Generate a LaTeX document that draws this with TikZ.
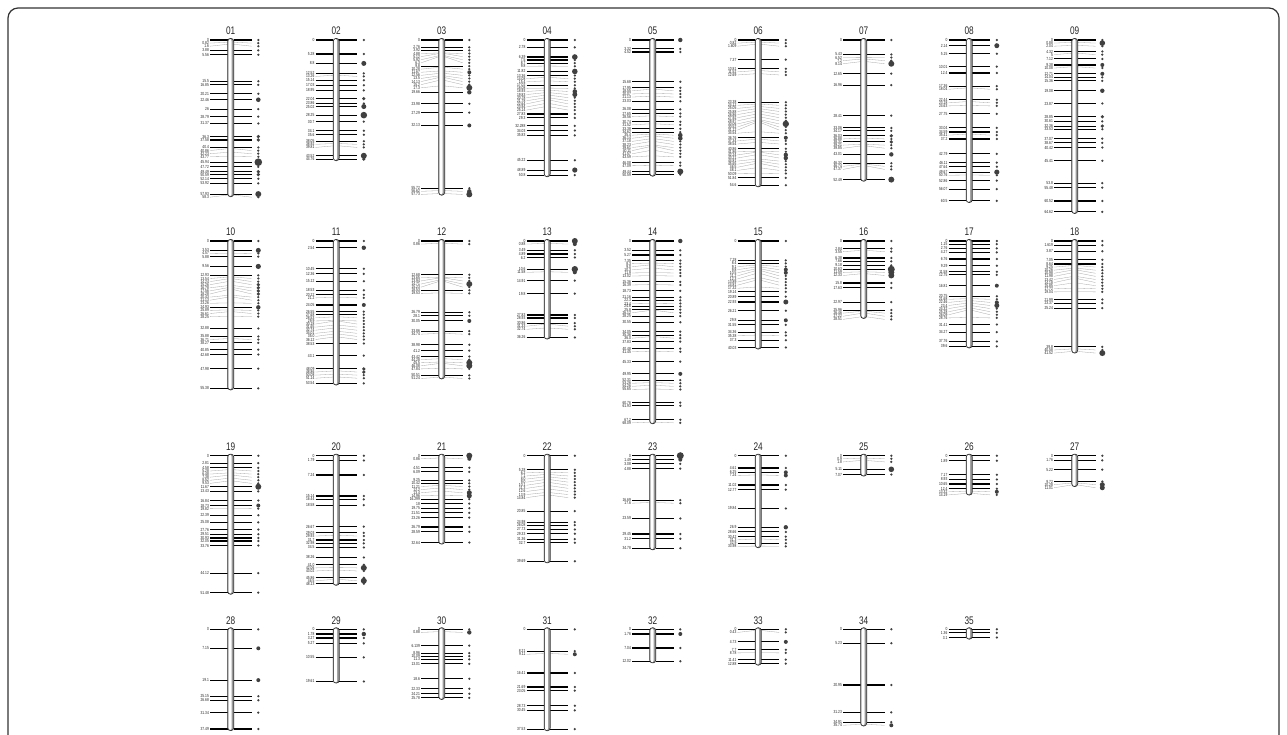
\documentclass[tikz,border=0pt]{standalone}
\usepackage{fontspec}
\newfontfamily\cf[FakeStretch=0.75]{Liberation Sans}
\newcount\chcount
\def\scl{2.66}
\def\dsep{3.1}
\tikzset{
  tickline/.style={line width=1.1pt, black},
  linkline/.style={line width=0.3pt, black!35},
  poslabel/.style={font=\cf\fontsize{4.4}{5}\selectfont, anchor=east, inner sep=0.4pt, text=black!85},
  chrname/.style={font=\cf\fontsize{11}{12}\selectfont, inner sep=0pt, text=black!85},
  markdot/.style={fill=black!75, draw=none},
  chrfill/.style={fill=black!40, draw=none},
  chrinner/.style={fill=white, draw=none},
  chroutline/.style={draw=black!80, line width=0.7pt},
  frame/.style={draw=black!80, line width=1.2pt, rounded corners=10pt},
}
\newcommand\chrom[5]{%
  \global\chcount=0
  \foreach \p/\s in {#5}{%
    \global\advance\chcount by 1
    \pgfmathsetmacro\yy{#2+\p*\scl}%
    \expandafter\xdef\csname py\the\chcount\endcsname{\yy}%
    \expandafter\xdef\csname pl\the\chcount\endcsname{\p}%
    \edef\tmpa{\p}\edef\tmpb{\s}%
    \ifx\tmpa\tmpb
      \expandafter\xdef\csname ps\the\chcount\endcsname{1.25}%
    \else
      \expandafter\xdef\csname ps\the\chcount\endcsname{\s}%
    \fi
  }%
  \edef\nn{\the\chcount}%
  \expandafter\xdef\csname fy1\endcsname{\csname py1\endcsname}%
  \foreach \i [evaluate=\i as \j using int(\i-1)] in {2,...,\nn}{%
    \edef\ta{\csname py\i\endcsname}\edef\tb{\csname fy\j\endcsname}%
    \pgfmathsetmacro\t{max(\ta,\tb+\dsep)}%
    \expandafter\xdef\csname fy\i\endcsname{\t}}%
  \pgfmathsetmacro\ybot{#2+#4*\scl}%
  \foreach \i in {1,...,\nn}{%
    \edef\py{\csname py\i\endcsname}%
    \edef\ly{\csname fy\i\endcsname}%
    \edef\pl{\csname pl\i\endcsname}%
    \edef\ps{\csname ps\i\endcsname}%
    \pgfmathtruncatemacro\isblack{abs(\ly-\py)<0.2 ? 1 : 0}%
    \ifnum\isblack=1
      \draw[tickline] (#1-20.7,\py) -- (#1-3,\py);
      \draw[tickline] (#1+3,\py) -- (#1+21,\py);
      \node[poslabel] (L#3-\i) at (#1-21.2,\py) {\pl};
      \fill[markdot] (#1+27.6,\py) circle[radius=\ps];
    \else
      \draw[linkline] (#1-20.7,\ly) -- (#1-3,\py);
      \draw[linkline] (#1+3,\py) -- (#1+21,\ly);
      \node[poslabel] (L#3-\i) at (#1-21.2,\ly) {\pl};
      \fill[markdot] (#1+27.6,\ly) circle[radius=\ps];
    \fi
  }%
  \fill[chrfill, rounded corners=2.8pt] (#1-3,#2-1.6) rectangle (#1+3,\ybot+1.6);
  \fill[chrinner, rounded corners=2pt] (#1-2.4,#2-1.0) rectangle (#1+0.9,\ybot+1.0);
  \draw[chroutline, rounded corners=2.8pt] (#1-3,#2-1.6) rectangle (#1+3,\ybot+1.6);
  \node[chrname] (N#3) at (#1,#2-9) {#3};
}
\begin{document}
\begin{tikzpicture}[x=1pt,y=-1pt]
\useasboundingbox (0,0) rectangle (1287,734);
\fill[white] (0,0) rectangle (1287,734);
\begin{scope}
\clip (0,0) rectangle (1287,734);
\draw[frame] (8,8) rectangle (1279,760);
\end{scope}
% ---------- row 1
\chrom{230.7}{40}{01}{58.3}{0,0.82,1.6,3.88,5.56,15.5,16.85,20.21,22.46/2.3,26,28.79,31.37,36.3/1.8,37.58/1.8,40.4,40.86,42.23,43.77,45.94/3.8,47.72,49.49/1.8,50.59/1.8,52.14,53.92,57.93/3,58.3}
\chrom{336.2}{40}{02}{44.76}{0,5.28,8.8/2.5,12.52,13.26,15.14,17.03,18.95,22.04/1.8,23.86,25.02/2.5,28.25/3.3,30.7,34.1,35.6,38.05,38.92,39.81,43.52/3,44.76/1.8}
\chrom{441.7}{40}{03}{57.73}{0,2.76,3.92,4.88,5.12,5.92,6.3,9.8,10.28,11.67/2,12.56,13.5,14.13,15.2,17.3/3,19.66/2.2,23.98,27.29,32.13/2,55.72,56.62/2.2,57.73/3}
\chrom{547.2}{40}{04}{50.8}{0,2.78,6.39/2.8,7.5,8.7,9.8,11.82/2.8,13.36,14.08,15.4,17.02,18.08,18.93/2.3,19.83/2.5,20.78,21.78,22.64,23.94,25.14,27.83,29.3,32.288,34.03,35.83,45.22,48.89/2.6,50.8}
\chrom{652.7}{40}{05}{50.59}{0/2.2,3.32,4.52,15.68,17.95,18.55,20.07,21.13,23.03,26.08,27.65,28.56,30.74,31.52,33.38,34.62,35.4/2.3,36.14/2.3,37.18,38.23,39.61,40.11,41.57,43.59,46.08,47.09,49.44/3,50.59}
\chrom{758.2}{40}{06}{54.6}{0,0.82,1.609,7.37,10.81,11.52,12.69,23.38,24.12,25.05,25.88,26.86,27.92,28.97,30.06/3.2,30.52,31.12,34.54,36.76/2,37.34,38.54,40.86,41.86,42.24/2.2,43.21/2.2,44.81,45.65,46.5,48.1,50.09,51.84,54.6}
\chrom{863.7}{40}{07}{52.49}{0,5.43,6.52,7.2,8.14/3,12.65,16.96,28.41,33.06,34.17,36.03/1.8,36.88,38.31/1.8,39.21,39.85,43.01/2.2,46.32,46.74,47.37,52.49/3}
\chrom{969.2}{40}{08}{60.5}{0,2.14/2.5,5.15,10.01,12.4,17.36,18.04,22.44,23.18,24.63,27.75,33.04,34.59,35.41,37.2,42.79,46.11,47.64,49.67/2.6,50.76,52.86,56.07,60.5}
\chrom{1074.7}{40}{09}{64.62}{0,0.88/2.8,2.04,4.32,5,7.12,9.38/2,10.08,12.71/2,14.04,15.36,19.08/2.2,23.87,28.85/1.8,30.61,32.36/1.8,33.53,37.07,38.67,40.42,45.41,53.8,55.48,60.52,64.62}
% ---------- row 2
\chrom{230.7}{241}{10}{55.38}{0,3.53/2.5,4.57,5.88,9.56/2.6,12.93,13.54,14.24,15.26/1.8,16.78/1.8,17.56/1.8,18.28/1.8,20.43,21.13,23.26,24.93/2.2,25.89,26.61,28.25,32.88,35.88,36.71,38.27,40.85,42.68,47.98,55.38}
\chrom{336.2}{241}{11}{53.54}{0,2.54/2.2,10.45,12.36,15.12,18.53,20.22,21.2,24.05/2,26.55,27.68,28.53,29.9,30.18,31.65,32.74,34.01,35.0,36.12,38.53,43.1,48.09/1.8,48.86/1.8,50.08,51.14,53.54}
\chrom{441.7}{241}{12}{51.24}{0,0.86,12.68,13.65,13.94,14.71/3,15.23,18.53,19.53,26.79,28.1,30.05/2,33.86,34.74,38.98,41.2,43.42,44.28,45.5/3,46.08/3,47.84,50.51,51.24}
\chrom{547.2}{241}{13}{36.26}{0/3,0.88/2,3.49,4.89,6.2,10.6/3.2,11.58/2,14.91,19.8,27.83,28.93,30.86,31.33,32.74,36.26}
\chrom{652.7}{241}{14}{68.09}{0/2.2,3.52,5.27,7.35,8.3,9.0,10.3,11.9,13.02,15.36,16.39,18.73,21.16,22.3,23.4,24.6,25.8,26.12,28.25,30.55,34.05,35.36,36.0,37.83,40.48,41.45,45.33,49.95/2,52.31,53.26,54.26,55.65,60.76,61.93,67.2,68.09}
\chrom{758.2}{241}{15}{40.03}{0,7.28,8.4,9.1,9.8/2,10.5/2,11.2,12.3,13.89,14.81,17.32,19.14,20.89,22.93/2.5,26.21,29.8/2,31.55,34.36,35.38,37.3,40.03}
\chrom{863.7}{241}{16}{28.51}{0,2.84,3.55,6.38,7.66,9.18,10.63/3.5,11.59/3,12.33/3,15.8,17.63,22.97,25.96,26.46,27.22,28.51}
\chrom{969.2}{241}{17}{39.6}{0,1.15,2.76,4.27,6.76,9.29,11.58,12.75,16.81/2,20.75,21.68,22.46/2,23.4/2.5,24.32,25.28,26.09,28.76,31.41,34.27,37.76,39.6}
\chrom{1074.7}{241}{18}{41.52}{0,1.619,3.87,7.05,8.64,9.25,10.26,10.98,11.98,13.42,14.18,15.85,17.72,19.04,21.99,23.37,25.24,39.8,40.58,41.52/3}
% ---------- row 3
\chrom{230.7}{455.7}{19}{51.48}{0,2.81,4.58,5.28,6.48,7.38,8.52,9.53,11.67/3,13.43,16.84,18.73/2,19.82,22.39,25.08,27.76,29.51,30.93,32.05,33.76,44.12,51.48}
\chrom{336.2}{455.7}{20}{48.13}{0,1.79,7.24,15.14,16.44,18.58,26.67,29.03,29.93,31.7,32.98,34.5,38.26,41.0,42.06/3,43.02,45.86,46.5/3,48.13}
\chrom{441.7}{455.7}{21}{32.64}{0/3,0.86/2,4.51,6.09,9.25,10.42,11.21,12.2,13.4/2.5,14.96/2.5,16.299,18,19.75,21.51,23.26,26.79,28.59,32.64}
\chrom{547.2}{455.7}{22}{39.69}{0,5.28,6.2,7.1,8.0,9.0,10.1,11.3,12.6,13.9,14.84,20.85,24.98,26.08,27.73,29.33,31.36,32.7,39.69}
\chrom{652.7}{455.7}{23}{34.78}{0/3.5,1.49/2,3.08,4.88,16.69,17.6,23.59,29.45,31.2,34.78}
\chrom{758.2}{455.7}{24}{33.98}{0,4.61,6.25/2,7.24/2,11.02,12.77,19.84,26.9/2.2,28.66,30.42,31.3,32.9,33.98}
\chrom{863.7}{455.7}{25}{7.07}{0,0.9,1.8,5.11/2.8,7.07}
\chrom{969.2}{455.7}{26}{14.19}{0,1.89,7.17,8.93,10.65,12.4,13.32/2,14.19}
\chrom{1074.7}{455.7}{27}{11.01}{0,1.76,5.22,9.72,10.28/2.5,11.01/2.5}
% ---------- row 4
\chrom{230.7}{629.3}{28}{37.49}{0,7.15/2,19.1/2,25.15,26.68,31.34,37.49}
\chrom{336.2}{629.3}{29}{19.61}{0,1.78/2.2,3.27,5.27,10.55,19.61}
\chrom{441.7}{629.3}{30}{25.78}{0,0.88/2.2,6.139,8.96,10.09,11.3,13.01,18.6,22.33,24.21,25.78}
\chrom{547.2}{629.3}{31}{37.53}{0,8.21,9.11/2,16.41,21.69,23.05,28.73,30.45,37.53}
\chrom{652.7}{629.3}{32}{12.02}{0,1.76/2,7.04,12.02}
\chrom{758.2}{629.3}{33}{12.88}{0,0.43,4.73/2,7.7,8.78,11.41,12.88}
\chrom{863.7}{629.3}{34}{35.74}{0,5.23,20.95,31.23,34.91,35.74/2}
\chrom{969.2}{629.3}{35}{3.1}{0,1.36,3.1}
\end{tikzpicture}
\end{document}
